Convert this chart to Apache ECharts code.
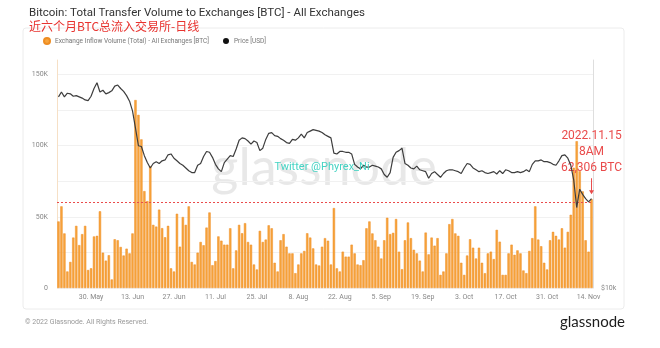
<!DOCTYPE html>
<html><head><meta charset="utf-8">
<script src="https://cdn.jsdelivr.net/npm/echarts@6/dist/echarts.min.js"></script>
<style>html,body{margin:0;padding:0;background:#fff}#c{width:660px;height:348px}</style>
</head><body><div id="c"></div>
<script>
// ---- data (values in thousands) ----
const startDate = '2022-05-19';
const dayCount = 181;
const xTickLabels = ['30. May','13. Jun','27. Jun','11. Jul','25. Jul','8. Aug','22. Aug','5. Sep','19. Sep','3. Oct','17. Oct','31. Oct','14. Nov'];
const inflowK = [
 46.7,57.3,38.3,11.6,18.3,35.4,43.6,30.1,37.8,43.6,12.6,13.8,36.2,36.6,53.8,24.8,19.2,23.0,6.0,34.2,33.5,28.8,22.8,27.6,24.3,38.3,131.9,121.5,104.3,68.0,61.0,85.5,44.3,43.1,55.0,42.0,
 35.6,43.6,13.8,11.6,52.1,29.0,49.8,44.3,57.3,18.3,16.5,24.8,32.3,30.0,42.4,53.0,16.0,18.9,36.2,33.2,30.4,30.4,41.9,13.8,26.4,44.3,38.4,45.5,32.3,30.4,16.5,13.0,40.1,32.3,34.0,44.0,41.9,
 17.7,11.6,33.5,37.8,29.0,24.3,24.3,10.4,16.5,24.3,26.0,38.4,35.4,27.8,16.5,15.8,29.0,35.0,33.2,16.5,56.1,13.8,11.6,25.5,22.0,22.0,30.4,24.3,16.5,16.0,19.5,41.9,46.7,38.3,33.5,29.0,
 20.7,33.5,49.3,37.8,38.7,48.4,25.5,13.2,33.5,46.0,35.0,26.8,24.3,19.2,11.6,38.9,23.6,35.4,29.7,35.0,9.2,11.6,24.3,44.8,48.4,38.3,36.6,17.7,9.2,22.8,34.2,28.3,20.7,28.3,17.7,10.4,24.3,
 25.5,20.3,40.8,32.5,9.2,9.2,24.3,30.4,23.3,26.4,24.3,12.3,10.4,26.0,35.0,57.3,34.0,29.3,17.7,13.0,33.5,39.4,36.6,34.0,41.9,28.3,39.4,51.4,84.4,103.0,82.0,67.8,33.5,25.5,62.306
];
const priceK = [
 29.2,30.0,29.2,29.8,29.7,29.3,29.4,29.2,29.0,28.7,28.6,29.3,30.6,31.6,30.0,30.3,29.7,29.9,30.2,31.0,31.2,30.6,30.1,29.4,28.5,27.0,24.5,22.2,22.1,21.0,20.2,19.6,20.1,20.3,20.1,20.4,
 20.5,21.1,21.2,20.7,20.4,20.1,19.9,19.6,19.3,19.1,19.1,19.9,20.1,20.9,21.5,21.4,20.8,20.0,19.5,19.2,20.2,20.6,21.0,20.9,21.8,22.9,23.2,23.1,22.8,22.4,22.8,22.6,21.6,21.9,23.0,23.8,23.9,
 23.5,23.4,23.1,22.9,22.6,22.5,23.0,22.9,23.2,23.7,23.2,23.9,24.1,24.3,24.2,24.1,23.9,23.6,23.4,23.2,21.3,21.2,21.5,21.5,21.4,21.4,21.2,20.0,19.7,19.5,19.9,19.7,19.7,19.9,19.8,19.7,
 19.5,18.9,18.6,19.1,20.8,21.4,21.6,21.9,20.1,19.9,19.6,19.5,19.8,19.4,19.3,19.2,18.5,19.0,19.2,18.9,18.6,19.0,19.3,19.4,19.4,19.3,19.2,19.0,19.6,20.1,20.0,19.6,19.4,19.2,19.3,19.1,19.0,
 19.1,19.2,18.95,19.3,19.0,19.4,19.3,19.1,19.1,19.2,19.1,19.2,19.4,19.2,20.0,20.4,20.4,20.5,20.3,20.3,20.2,20.0,19.9,20.4,21.0,21.1,20.7,19.9,18.3,15.7,17.4,16.9,16.5,16.2,16.5
];
const thresholdK = 60;
const annotationText = '2022.11.15\n8AM\n62,306 BTC';
const seriesNames = ['Exchange Inflow Volume (Total) - All Exchanges [BTC]', 'Price [USD]'];

// ---- categories ----
const MONTHS = ['Jan','Feb','Mar','Apr','May','Jun','Jul','Aug','Sep','Oct','Nov','Dec'];
const categories = [];
(function(){
  const d0 = new Date(startDate + 'T00:00:00Z');
  for (let i = 0; i < dayCount; i++) {
    const d = new Date(d0.getTime() + i * 86400000);
    categories.push(d.getUTCDate() + '. ' + MONTHS[d.getUTCMonth()]);
  }
})();

const chart = echarts.init(document.getElementById('c'), null, {renderer: 'canvas'});
const lastCat = categories[categories.length - 1];
const option = {
  animation: false,
  backgroundColor: '#fff',
  textStyle: {fontFamily: 'Roboto'},
  title: [
    {text: 'Bitcoin: Total Transfer Volume to Exchanges [BTC] - All Exchanges', left: 24, top: 2,
     textStyle: {fontSize: 11.5, fontWeight: 'normal', color: '#333', fontFamily: 'Roboto'}},
    {text: '近六个月BTC总流入交易所-日线', left: 24, top: 15,
     textStyle: {fontSize: 12, fontWeight: 'normal', color: '#e8332f', fontFamily: 'Noto Sans CJK SC'}}
  ],
  legend: {
    left: 38, top: 32, itemWidth: 6, itemHeight: 6, itemGap: 14, icon: 'circle',
    textStyle: {fontSize: 6.5, color: '#777'},
    data: seriesNames
  },
  graphic: [
    {type: 'rect', shape: {x: 23, y: 28, width: 601, height: 281, r: 3}, style: {fill: 'none', stroke: '#ececec', lineWidth: 1}, z: -10},
    {type: 'text', x: 324, y: 168, z: -5, style: {text: 'glassnode', font: '52px Lato', fill: 'rgba(185,185,185,0.32)', textAlign: 'center', textVerticalAlign: 'middle', align: 'center', verticalAlign: 'middle'}},
    {type: 'text', x: 322, y: 167, z: 100, style: {text: 'Twitter @Phyrex_Ni', font: '11px Roboto', fill: '#45d3c3', textAlign: 'center', textVerticalAlign: 'middle', align: 'center', verticalAlign: 'middle'}},
    {type: 'text', x: 25, y: 322, style: {text: '© 2022 Glassnode. All Rights Reserved.', font: '7px Roboto', fill: '#999', textVerticalAlign: 'middle', verticalAlign: 'middle'}},
    {type: 'text', x: 625, y: 322, style: {text: 'glassnode', font: '15px Lato', fill: '#1c1c1c', textAlign: 'right', textVerticalAlign: 'middle', align: 'right', verticalAlign: 'middle'}}
  ],
  grid: {left: 57, right: 67, top: 60, bottom: 60},
  xAxis: {
    type: 'category', data: categories, boundaryGap: true,
    axisLine: {show: false}, axisTick: {show: false},
    axisLabel: {
      fontSize: 7, color: '#888', margin: 6,
      interval: function (idx, val) { return xTickLabels.indexOf(val) >= 0; }
    },
    splitLine: {show: false}
  },
  yAxis: [
    {type: 'value', min: 0, max: 160, interval: 25, position: 'left',
     axisLine: {show: true, lineStyle: {color: '#f6e0c6'}}, axisTick: {show: false},
     axisLabel: {fontSize: 7, color: '#888', margin: 9, showMaxLabel: false,
       formatter: function (v) { return v % 50 === 0 ? (v === 0 ? '0' : v + 'K') : ''; }},
     splitLine: {show: true, showMaxLine: false, lineStyle: {color: '#f1f1f1', width: 1}}},
    {type: 'log', logBase: 10, min: 10, max: 35.9, position: 'right',
     axisLine: {show: true, lineStyle: {color: '#dedede'}}, axisTick: {show: false},
     axisLabel: {fontSize: 7, color: '#888', margin: 8, showMaxLabel: false,
       formatter: function (v) { return Math.abs(v - 10) < 0.01 ? '$10k' : ''; }},
     splitLine: {show: false}}
  ],
  series: [
    {name: seriesNames[0], type: 'bar', yAxisIndex: 0, data: inflowK, barCategoryGap: '22%',
     itemStyle: {color: '#f7a43c', borderColor: '#ee8d22', borderWidth: 0.5},
     markLine: {silent: true, symbol: ['none', 'none'], label: {show: false},
       lineStyle: {color: '#ea4b4b', type: [2, 2], width: 1},
       data: [{yAxis: thresholdK}]},
     markPoint: {silent: true,
       data: [{coord: [lastCat, inflowK[inflowK.length - 1]]}],
       symbol: 'path://M2,0 L3,0 L3,12 L5,12 L2.5,16 L0,12 L2,12 Z',
       symbolSize: [5, 16], symbolOffset: [0, -13],
       itemStyle: {color: '#e94b4b'},
       label: {show: true, position: 'top', distance: 2, formatter: annotationText,
         color: '#e94b4b', fontSize: 12, lineHeight: 16, fontFamily: 'Roboto', align: 'center'}}
    },
    {name: seriesNames[1], type: 'line', yAxisIndex: 1, data: priceK, symbol: 'none',
     lineStyle: {color: '#3d3d3d', width: 1.2}, itemStyle: {color: '#111'}, z: 5}
  ]
};
chart.setOption(option);
</script>
</body></html>
